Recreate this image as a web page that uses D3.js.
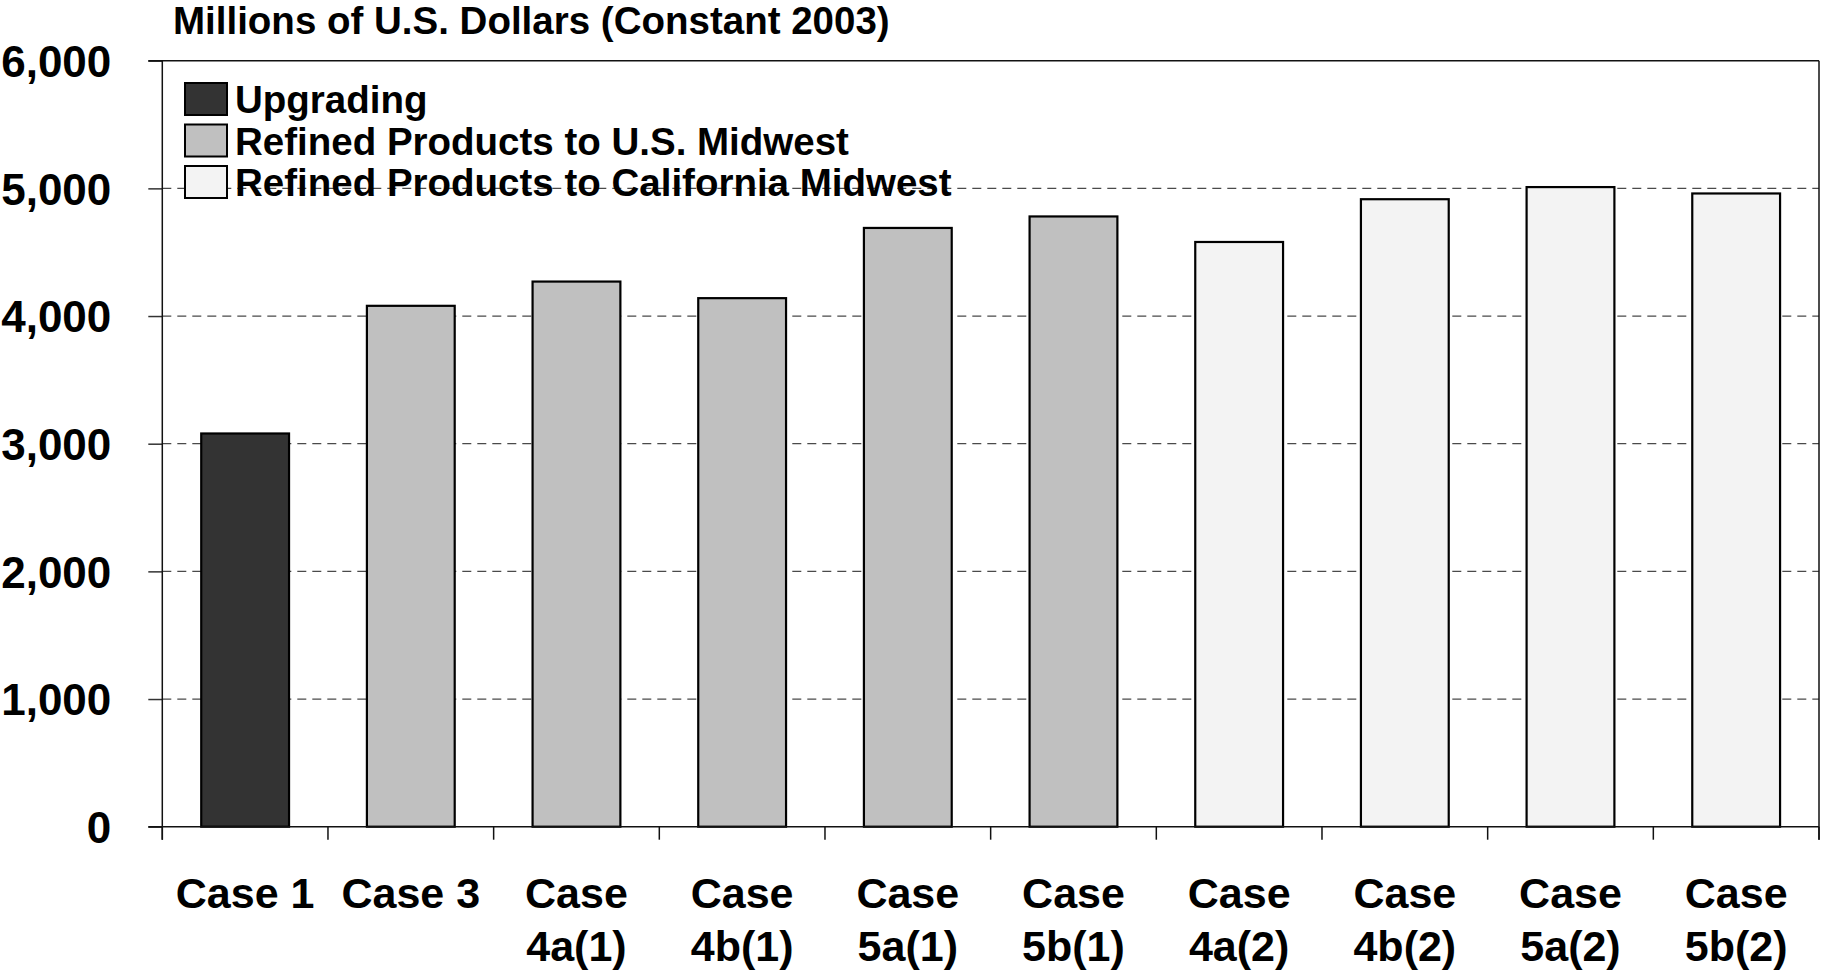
<!DOCTYPE html>
<html>
<head>
<meta charset="utf-8">
<script src="https://cdn.jsdelivr.net/npm/d3@7"></script>
<style>
  html, body { margin: 0; padding: 0; background: #fff; }
  text { font-family: "Liberation Sans", Arial, sans-serif; font-weight: bold; fill: #000; }
</style>
</head>
<body>
<div id="chart"></div>
<script>
// values
const cases = ["Case 1", "Case 3", "Case 4a(1)", "Case 4b(1)", "Case 5a(1)", "Case 5b(1)",
  "Case 4a(2)", "Case 4b(2)", "Case 5a(2)", "Case 5b(2)"];
const costs = [3080, 4080, 4270, 4140, 4690, 4780, 4580, 4915, 5010, 4960];
const seriesNames = ["Upgrading", "Refined Products to U.S. Midwest", "Refined Products to California Midwest"];
const caseSeries = [0, 1, 1, 1, 1, 1, 2, 2, 2, 2];
const yTicks = [0, 1000, 2000, 3000, 4000, 5000, 6000];
const titleText = "Millions of U.S. Dollars (Constant 2003)";

const width = 1825;
const height = 976;
const plotLeft = 162.3, plotRight = 1819, plotTop = 60.7, plotBottom = 826.7;

const fill = d3.scaleOrdinal()
  .domain(seriesNames)
  .range(["#333333", "#c0c0c0", "#f3f3f3"]);

const x = d3.scaleBand()
  .domain(cases)
  .range([plotLeft, plotRight])
  .paddingInner(0.47)
  .paddingOuter(0.235);

const y = d3.scaleLinear()
  .domain([0, 6000])
  .range([plotBottom, plotTop]);

const svg = d3.select("#chart").append("svg")
  .attr("width", width)
  .attr("height", height)
  .attr("viewBox", [0, 0, width, height]);

// title
svg.append("text")
  .attr("x", 173)
  .attr("y", 34)
  .attr("font-size", 38.5)
  .text(titleText);

// dashed gridlines
svg.append("g")
  .selectAll("line")
  .data(yTicks.filter(d => d > 0 && d < 6000))
  .join("line")
    .attr("x1", plotLeft)
    .attr("x2", plotRight)
    .attr("y1", d => y(d))
    .attr("y2", d => y(d))
    .attr("stroke", "#4a4a4a")
    .attr("stroke-width", 1.2)
    .attr("stroke-dasharray", "9,6");

// y axis ticks + labels
svg.append("g")
  .attr("transform", `translate(${plotLeft},0)`)
  .call(d3.axisLeft(y).tickValues(yTicks).tickFormat(d3.format(",")).tickSize(14).tickPadding(37))
  .call(g => g.select(".domain").remove())
  .call(g => g.selectAll(".tick line").attr("stroke", "#333").attr("stroke-width", 1.5))
  .call(g => g.selectAll(".tick text")
    .attr("font-size", 44)
    .attr("font-family", "'Liberation Sans', Arial, sans-serif")
    .attr("font-weight", "bold")
    .attr("fill", "#000")
    .attr("dy", "0.36em"));

// frame: top border, right border, left axis line
svg.append("line")
  .attr("x1", plotLeft - 14).attr("x2", plotRight)
  .attr("y1", y(6000)).attr("y2", y(6000))
  .attr("stroke", "#111").attr("stroke-width", 1.5);
svg.append("line")
  .attr("x1", plotRight).attr("x2", plotRight)
  .attr("y1", y(6000)).attr("y2", y(0) + 13)
  .attr("stroke", "#111").attr("stroke-width", 1.5);
svg.append("line")
  .attr("x1", plotLeft).attr("x2", plotLeft)
  .attr("y1", y(6000)).attr("y2", y(0) + 13)
  .attr("stroke", "#111").attr("stroke-width", 1.5);

// category boundary ticks below the zero line
const step = x.step();
const bounds = cases.map(c => x(c) - (step - x.bandwidth()) / 2).concat([plotRight]);
svg.append("g")
  .selectAll("line")
  .data(bounds)
  .join("line")
    .attr("x1", d => d).attr("x2", d => d)
    .attr("y1", y(0)).attr("y2", y(0) + 13)
    .attr("stroke", "#111").attr("stroke-width", 1.5);

// bars
svg.append("g")
  .selectAll("rect")
  .data(cases)
  .join("rect")
    .attr("x", d => x(d))
    .attr("y", (d, i) => y(costs[i]))
    .attr("width", x.bandwidth())
    .attr("height", (d, i) => y(0) - y(costs[i]))
    .attr("fill", (d, i) => fill(seriesNames[caseSeries[i]]))
    .attr("stroke", "#000")
    .attr("stroke-width", 2.2);

svg.append("line")
  .attr("x1", plotLeft - 14).attr("x2", plotRight)
  .attr("y1", y(0)).attr("y2", y(0))
  .attr("stroke", "#111").attr("stroke-width", 1.5);

// x labels (wrapped when they don't fit the band)
svg.append("g")
  .selectAll("text")
  .data(cases)
  .join("text")
    .attr("text-anchor", "middle")
    .attr("font-size", 43)
    .each(function(d) {
      const lines = d.length > 6 ? d.split(" ") : [d];
      d3.select(this).selectAll("tspan")
        .data(lines)
        .join("tspan")
          .attr("x", x(d) + x.bandwidth() / 2)
          .attr("y", (l, j) => 908 + j * 53)
          .text(l => l);
    });

// legend
const legend = svg.append("g")
  .selectAll("g")
  .data(seriesNames)
  .join("g")
    .attr("transform", (d, i) => `translate(185,${83 + i * 41.5})`);

legend.append("rect")
  .attr("width", 42)
  .attr("height", 32)
  .attr("fill", d => fill(d))
  .attr("stroke", "#000")
  .attr("stroke-width", 2);

legend.append("text")
  .attr("x", 50)
  .attr("y", 30)
  .attr("font-size", 38.5)
  .text(d => d);
</script>
</body>
</html>
